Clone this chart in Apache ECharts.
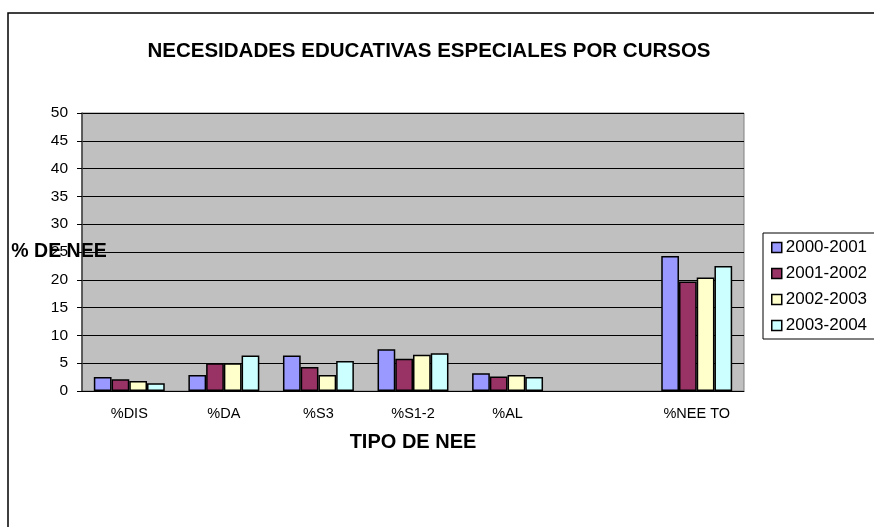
<!DOCTYPE html>
<html>
<head>
<meta charset="utf-8">
<script src="https://cdn.jsdelivr.net/npm/echarts@6/dist/echarts.min.js"></script>
<style>
  html, body { margin: 0; padding: 0; background: #fff; }
  #main { width: 874px; height: 527px; }
</style>
</head>
<body>
<div id="main"></div>
<script>
// tipos de NEE (la sexta categoria va vacia, como en el original)
const categories = ['%DIS', '%DA', '%S3', '%S1-2', '%AL', '', '%NEE TO'];
const courses = ['2000-2001', '2001-2002', '2002-2003', '2003-2004'];
const curso2000 = [2.5, 2.9, 6.4, 7.5, 3.2, null, 24.3];
const curso2001 = [2.1, 5.0, 4.3, 5.8, 2.6, null, 19.7];
const curso2002 = [1.8, 5.0, 2.9, 6.5, 2.9, null, 20.4];
const curso2003 = [1.4, 6.4, 5.4, 6.8, 2.5, null, 22.5];
const yTicks = [0, 50, 5]; // min, max, intervalo

const colors = ['#9999FF', '#993366', '#FFFFCC', '#CCFFFF'];
const font = 'Liberation Sans, Arial, sans-serif';

const myChart = echarts.init(document.getElementById('main'));

const values = [curso2000, curso2001, curso2002, curso2003];
const series = courses.map((name, i) => ({
  name: name,
  type: 'bar',
  data: values[i],
  barGap: '0%',
  barCategoryGap: '25%',
  itemStyle: { color: colors[i], borderColor: '#000', borderWidth: 1.5 }
}));

const option = {
  animation: false,
  textStyle: { fontFamily: font },
  title: {
    text: 'NECESIDADES EDUCATIVAS ESPECIALES POR CURSOS',
    left: 424,
    textAlign: 'center',
    top: 36,
    textStyle: { fontSize: 20.5, fontWeight: 'bold', color: '#000', fontFamily: font }
  },
  legend: {
    orient: 'vertical',
    left: 771,
    top: 239,
    itemWidth: 10,
    itemHeight: 10,
    itemGap: 9,
    icon: 'rect',
    padding: 0,
    textStyle: { fontSize: 17, color: '#000', fontFamily: font, padding: [0, 0, 0, -1] },
    itemStyle: { borderColor: '#000', borderWidth: 1.5 }
  },
  graphic: [
    // marco exterior del grafico
    { type: 'rect', shape: { x: 8, y: 13, width: 900, height: 600 },
      style: { fill: 'none', stroke: '#000', lineWidth: 1.5 }, z: -1 },
    // caja de la leyenda
    { type: 'rect', shape: { x: 763, y: 233, width: 140, height: 106 },
      style: { fill: '#fff', stroke: '#000', lineWidth: 1 }, z: -1 }
  ],
  grid: {
    left: 82, right: 130, top: 113, bottom: 136,
    outerBoundsMode: 'none',
    containLabel: false,
    show: true,
    backgroundColor: '#C0C0C0',
    borderColor: '#808080',
    borderWidth: 1
  },
  xAxis: {
    type: 'category',
    data: categories,
    name: 'TIPO DE NEE',
    nameLocation: 'middle',
    nameGap: 41,
    nameMoveOverlap: false,
    nameTextStyle: { fontSize: 20, fontWeight: 'bold', color: '#000', fontFamily: font },
    axisLine: { lineStyle: { color: '#000', width: 1 } },
    axisTick: { length: 5, lineStyle: { color: '#000' } },
    axisLabel: { fontSize: 14.5, color: '#000', margin: 15, fontFamily: font }
  },
  yAxis: {
    type: 'value',
    min: yTicks[0],
    max: yTicks[1],
    interval: yTicks[2],
    name: '% DE NEE',
    nameLocation: 'middle',
    nameRotate: 0,
    nameGap: 23,
    nameMoveOverlap: false,
    nameTextStyle: { fontSize: 19.5, fontWeight: 'bold', color: '#000', fontFamily: font, align: 'center' },
    axisLine: { show: true, lineStyle: { color: '#404040', width: 1.5 } },
    axisTick: { show: true, length: 5, lineStyle: { color: '#000' } },
    axisLabel: { fontSize: 15.5, color: '#000', margin: 14, fontFamily: font },
    splitLine: { lineStyle: { color: '#000', width: 1 } }
  },
  series: series
};

myChart.setOption(option);
</script>
</body>
</html>
